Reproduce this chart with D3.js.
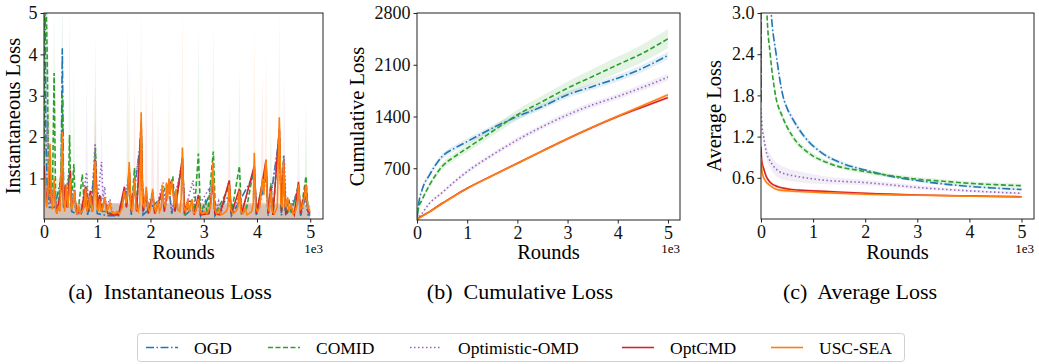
<!DOCTYPE html>
<html>
<head>
<meta charset="utf-8">
<script src="https://cdn.jsdelivr.net/npm/d3@7"></script>
<style>
  body { margin: 0; background: #fff; }
  svg { font-family: "Liberation Serif", "Times New Roman", "DejaVu Serif", serif; }
</style>
</head>
<body>
<script>
const methods = ["OGD", "COMID", "Optimistic-OMD", "OptCMD", "USC-SEA"]
const roundTicks = [0, 1000, 2000, 3000, 4000, 5000]

// (a) instantaneous loss, [round, value]
const instOGD = [[0,5.2],[20,5.2],[35,2.0],[60,0.8],[100,0.3],[160,0.3],[200,0.3],[320,1.0],[344,4.15],[370,0.3],[420,0.6],[480,1.1],[520,0.2],[600,0.15],[700,0.15],[780,0.5],[820,0.12],[965,1.2],[1000,0.15],[1200,0.1],[1400,0.1],[1600,0.9],[1640,0.12],[1825,2.0],[1860,0.12],[2350,0.7],[2400,0.15],[2600,1.3],[2640,0.1],[2900,0.4],[2940,0.1],[3170,0.8],[3210,0.1],[3480,0.6],[3520,0.1],[3950,1.1],[3990,0.1],[4170,1.0],[4210,0.1],[4420,2.0],[4460,0.1],[4500,1.0],[4540,0.1],[4780,0.65],[4820,0.1],[4920,0.6],[4960,0.12],[4999,0.12]]
const instCOMID = [[0,1.0],[10,5.2],[40,5.2],[60,4.0],[80,1.5],[100,0.6],[130,0.4],[160,0.8],[190,3.55],[220,0.3],[260,0.2],[320,1.2],[344,3.0],[370,0.4],[420,0.6],[450,0.3],[480,2.05],[510,0.3],[560,1.35],[590,0.3],[640,0.2],[720,1.1],[760,0.3],[800,0.8],[850,0.2],[900,0.4],[965,1.75],[1000,0.3],[1060,0.6],[1100,0.2],[1200,0.2],[1300,0.12],[1400,0.15],[1510,0.7],[1550,0.3],[1600,1.2],[1640,0.2],[1700,1.25],[1740,0.2],[1825,2.4],[1860,0.2],[1920,0.6],[1960,0.15],[2040,0.7],[2080,0.15],[2220,0.6],[2300,0.85],[2350,0.7],[2420,1.05],[2460,0.2],[2600,1.5],[2640,0.15],[2780,0.45],[2820,0.12],[2900,1.6],[2940,0.15],[3030,0.45],[3070,0.12],[3180,1.65],[3220,0.15],[3480,0.8],[3520,0.15],[3670,1.3],[3710,0.15],[3800,0.25],[3950,1.3],[3990,0.15],[4170,1.3],[4210,0.15],[4260,0.88],[4300,0.12],[4420,2.2],[4460,0.2],[4500,1.55],[4540,0.15],[4600,0.5],[4640,0.15],[4780,0.85],[4820,0.15],[4920,1.05],[4960,0.2],[4999,0.15]]
const instOMD = [[0,1.5],[40,1.8],[70,2.4],[90,1.0],[120,0.4],[190,0.8],[240,0.2],[344,1.0],[380,0.3],[420,0.75],[480,1.25],[520,0.3],[560,0.8],[600,0.2],[700,0.2],[760,0.8],[800,1.15],[840,0.3],[900,0.5],[960,1.85],[1000,0.4],[1080,1.4],[1110,0.5],[1140,0.8],[1170,0.3],[1240,0.5],[1280,0.2],[1400,0.15],[1510,0.6],[1600,1.0],[1640,0.2],[1825,2.0],[1860,0.2],[2040,0.6],[2080,0.2],[2240,0.9],[2280,0.3],[2350,0.8],[2400,0.2],[2600,1.4],[2640,0.2],[2800,0.95],[2840,0.2],[3170,0.9],[3210,0.2],[3280,0.45],[3320,0.15],[3480,0.95],[3520,0.15],[3670,0.6],[3710,0.15],[3950,1.2],[3990,0.15],[4170,1.2],[4210,0.15],[4420,2.0],[4460,0.2],[4510,1.55],[4550,0.15],[4780,0.7],[4820,0.15],[4900,0.6],[4940,0.2],[4999,0.15]]
const instOptCMD = [[0,1.3],[20,0.9],[50,0.4],[80,0.8],[112,1.3],[140,0.4],[190,0.7],[240,0.15],[330,0.8],[344,1.3],[370,0.3],[400,0.85],[430,0.3],[470,0.8],[494,1.2],[520,0.3],[575,0.6],[620,0.15],[700,0.2],[780,0.8],[820,0.2],[870,0.7],[910,0.2],[965,1.45],[1000,0.3],[1044,0.6],[1080,0.2],[1140,0.5],[1200,0.15],[1300,0.12],[1400,0.12],[1510,0.8],[1550,0.3],[1600,1.25],[1640,0.2],[1700,0.9],[1740,0.2],[1825,2.3],[1860,0.2],[1920,0.7],[1960,0.15],[2040,0.6],[2080,0.15],[2220,0.7],[2260,0.2],[2350,0.95],[2420,0.8],[2460,0.2],[2600,1.5],[2640,0.15],[2700,0.45],[2780,0.45],[2820,0.12],[2900,0.6],[2940,0.12],[3100,0.15],[3170,0.9],[3210,0.15],[3300,0.12],[3480,0.95],[3520,0.15],[3670,0.75],[3710,0.15],[3950,1.3],[3990,0.15],[4100,0.9],[4170,1.45],[4210,0.15],[4260,0.8],[4300,0.12],[4420,2.2],[4460,0.2],[4500,1.4],[4540,0.15],[4640,0.3],[4700,0.12],[4780,0.92],[4820,0.15],[4920,0.85],[4960,0.2],[4999,0.15]]
const instUSC = [[0,0.9],[15,1.0],[30,0.5],[50,0.3],[70,0.6],[90,1.1],[112,1.84],[135,0.6],[160,0.25],[190,1.0],[215,0.3],[240,0.15],[270,0.3],[300,0.2],[325,1.2],[344,2.12],[365,0.5],[390,0.2],[420,0.85],[445,0.3],[470,0.6],[494,1.0],[515,0.25],[545,0.4],[575,0.7],[600,0.2],[625,0.15],[650,0.35],[680,0.15],[710,0.2],[750,0.3],[780,0.75],[805,0.2],[830,0.3],[870,0.6],[900,0.2],[930,0.4],[960,1.42],[990,0.3],[1020,0.2],[1044,0.5],[1070,0.2],[1100,0.3],[1140,0.55],[1170,0.2],[1200,0.25],[1240,0.4],[1270,0.2],[1320,0.15],[1370,0.2],[1420,0.15],[1470,0.3],[1510,0.7],[1540,0.4],[1570,0.6],[1600,1.4],[1630,0.3],[1660,0.2],[1700,1.0],[1730,0.3],[1770,0.2],[1800,0.4],[1825,2.6],[1850,0.4],[1880,0.3],[1920,0.8],[1950,0.3],[1985,0.2],[2010,0.35],[2040,0.75],[2070,0.3],[2100,0.2],[2140,0.45],[2170,0.2],[2200,0.3],[2220,0.85],[2250,0.4],[2280,0.3],[2300,0.9],[2320,0.5],[2350,1.0],[2370,0.6],[2400,0.95],[2420,0.7],[2450,0.3],[2480,0.75],[2510,0.25],[2550,0.2],[2575,0.5],[2600,1.75],[2625,0.3],[2660,0.2],[2700,0.5],[2730,0.2],[2780,0.5],[2810,0.15],[2850,0.2],[2900,0.5],[2930,0.2],[2970,0.15],[3020,0.2],[3060,0.15],[3100,0.25],[3140,0.4],[3170,1.4],[3200,0.3],[3240,0.15],[3290,0.25],[3320,0.12],[3370,0.15],[3420,0.2],[3450,0.3],[3480,0.85],[3510,0.25],[3550,0.15],[3600,0.2],[3640,0.3],[3670,0.7],[3700,0.2],[3740,0.15],[3780,0.3],[3810,0.12],[3850,0.15],[3900,0.2],[3930,0.4],[3950,1.62],[3975,0.3],[4010,0.2],[4050,0.3],[4080,0.7],[4100,1.0],[4130,0.6],[4150,1.15],[4170,1.45],[4200,0.3],[4230,0.2],[4260,0.7],[4290,0.2],[4330,0.15],[4380,0.3],[4420,2.48],[4450,0.4],[4480,0.3],[4500,1.4],[4530,0.3],[4575,0.55],[4600,0.2],[4640,0.35],[4680,0.15],[4720,0.2],[4760,0.4],[4780,0.85],[4810,0.25],[4850,0.3],[4890,0.55],[4920,0.85],[4950,0.3],[4999,0.2]]

// (a) upper edge of the shaded spread, [round, value]
const bandInstOGD = [[0,5.2],[40,5.2],[80,1.0],[300,0.5],[320,1.0],[344,5.2],[370,0.4],[4999,0.35]]
const bandInstCOMID = [[0,5.2],[70,5.2],[110,1.5],[160,1.5],[190,5.2],[220,1.0],[300,1.0],[344,5.2],[370,0.6],[455,0.6],[480,5.2],[510,0.5],[540,0.5],[560,3.75],[590,0.4],[935,0.4],[965,4.5],[995,0.4],[1540,0.4],[1570,4.7],[1600,0.4],[2870,0.4],[2900,4.7],[2930,0.4],[3150,0.4],[3180,4.8],[3210,0.4],[3640,0.4],[3670,3.7],[3700,0.4],[4230,0.4],[4260,2.4],[4290,0.4],[4890,0.4],[4920,2.85],[4950,0.4],[4999,0.35]]
const bandInstOMD = [[0,2.5],[70,4.0],[110,0.6],[180,0.4],[770,0.4],[800,3.45],[830,0.4],[1050,0.4],[1080,2.6],[1110,0.4],[4480,0.4],[4510,3.55],[4540,0.4],[4750,0.4],[4780,2.4],[4810,0.4],[4999,0.35]]
const bandInstOptCMD = [[0,2.0],[60,1.0],[120,0.4],[930,0.4],[960,3.3],[990,0.4],[1670,0.4],[1700,3.2],[1730,0.4],[1890,0.4],[1920,3.5],[1950,0.4],[2010,0.4],[2040,3.4],[2070,0.4],[2110,0.4],[2140,2.6],[2170,0.4],[3450,0.4],[3480,2.85],[3510,0.4],[4070,0.4],[4100,3.5],[4130,0.4],[4999,0.35]]
const bandInstUSC = [[0,1.5],[112,3.0],[180,0.4],[320,0.5],[344,3.5],[380,0.4],[930,0.4],[960,2.5],[990,0.4],[1570,0.4],[1600,4.0],[1630,0.4],[1795,0.4],[1825,5.2],[1855,0.4],[2320,0.4],[2350,3.65],[2380,0.4],[2570,0.4],[2600,5.2],[2630,0.4],[3920,0.4],[3950,4.65],[3980,0.4],[4140,0.4],[4170,4.15],[4200,0.4],[4390,0.4],[4420,5.2],[4450,0.4],[4999,0.35]]

// (b) cumulative loss
const cumRounds = [0, 30, 100, 250, 500, 750, 1000, 1500, 2000, 2500, 3000, 3500, 4000, 4500, 5000]
const cumOGD = [0, 200, 406, 610, 858, 971, 1061, 1242, 1400, 1535, 1694, 1806, 1919, 2055, 2226]
const cumCOMID = [0, 158, 271, 474, 723, 858, 971, 1197, 1423, 1603, 1784, 1942, 2100, 2258, 2452]
const cumOMD = [0, 30, 90, 226, 370, 520, 655, 880, 1084, 1264, 1423, 1558, 1671, 1797, 1933]
const cumOptCMD = [0, 20, 54, 113, 226, 330, 429, 600, 768, 935, 1100, 1255, 1400, 1530, 1657]
const cumUSC = [0, 18, 50, 108, 220, 325, 425, 598, 765, 933, 1098, 1256, 1405, 1550, 1694]
const cumSdOGD = [0, 20, 30, 35, 40, 40, 40, 40, 40, 40, 45, 45, 45, 50, 50]
const cumSdCOMID = [0, 15, 25, 35, 45, 50, 55, 60, 70, 80, 90, 100, 110, 120, 130]
const cumSdOMD = [0, 5, 10, 15, 20, 25, 30, 30, 35, 35, 40, 40, 40, 45, 45]
const cumSdOptCMD = [0, 2, 5, 8, 10, 12, 15, 15, 18, 18, 20, 20, 22, 22, 25]
const cumSdUSC = [0, 2, 5, 8, 10, 12, 15, 15, 18, 18, 20, 20, 22, 22, 25]

// (c) average loss, [round, mean, spread]
const avgOGD = [[0,1.7,0.05],[8,4.0,0.1],[30,6.0,0.1],[60,5.5,0.1],[100,4.5,0.1],[150,3.6,0.08],[196,3.0,0.07],[291,2.4,0.06],[419,1.8,0.05],[514,1.59,0.05],[577,1.5,0.05],[831,1.2,0.04],[1181,0.956,0.03],[1562,0.81,0.03],[2006,0.713,0.02],[2500,0.62,0.02],[3000,0.56,0.02],[3500,0.51,0.02],[4000,0.475,0.02],[4500,0.45,0.02],[5000,0.43,0.02]]
const avgCOMID = [[0,1.7,0.05],[8,4.5,0.1],[30,5.5,0.1],[50,5.0,0.1],[80,3.8,0.1],[114,3.0,0.08],[177,2.4,0.07],[279,1.8,0.06],[406,1.5,0.05],[609,1.2,0.05],[926,0.956,0.04],[1307,0.81,0.03],[2006,0.69,0.03],[2500,0.63,0.03],[3000,0.58,0.03],[3500,0.55,0.03],[4000,0.52,0.03],[4500,0.5,0.03],[5000,0.485,0.03]]
const avgOMD = [[0,1.61,0.05],[20,1.35,0.06],[50,1.2,0.08],[100,0.98,0.09],[164,0.86,0.1],[250,0.76,0.1],[354,0.689,0.1],[500,0.65,0.09],[724,0.616,0.08],[1181,0.568,0.06],[2006,0.53,0.04],[3000,0.46,0.03],[4000,0.41,0.02],[5000,0.374,0.02]]
const avgOptCMD = [[0,1.05,0.04],[15,0.85,0.04],[50,0.738,0.04],[100,0.62,0.03],[164,0.544,0.03],[322,0.47,0.03],[724,0.42,0.02],[1300,0.4,0.02],[2006,0.374,0.02],[3000,0.35,0.01],[4000,0.337,0.01],[5000,0.325,0.01]]
const avgUSC = [[0,0.9,0.04],[25,0.665,0.04],[80,0.56,0.04],[164,0.495,0.03],[354,0.42,0.03],[724,0.4,0.02],[1300,0.38,0.02],[2006,0.36,0.02],[3000,0.345,0.01],[4000,0.333,0.01],[5000,0.32,0.01]]

const colors = ["#1f77b4", "#2ca02c", "#9467bd", "#d62728", "#ff7f0e"]
const dashes = ["8,2.5,1.5,2.5", "5,2.5", "1.5,2.5", null, null]

const svg = d3.select("body").append("svg")
  .attr("width", 1039)
  .attr("height", 364)

function makePanel(p) {
  const x = d3.scaleLinear().domain([0, 5240]).range([p.left, p.right])
  const y = d3.scaleLinear().domain(p.yDomain).range([p.bottom, p.top])
  const g = svg.append("g")

  g.append("clipPath").attr("id", p.id)
    .append("rect")
    .attr("x", p.left).attr("y", p.top)
    .attr("width", p.right - p.left).attr("height", p.bottom - p.top)

  const plot = g.append("g").attr("clip-path", "url(#" + p.id + ")")

  // axes
  const xa = g.append("g")
    .attr("transform", "translate(0," + p.bottom + ")")
    .call(d3.axisBottom(x).tickValues(roundTicks).tickFormat(d => d / 1000).tickSize(3.5).tickPadding(2.5))
  const ya = g.append("g")
    .attr("transform", "translate(" + p.left + ",0)")
    .call(d3.axisLeft(y).tickValues(p.yTicks).tickFormat(p.yFormat).tickSize(3.5).tickPadding(3))
  for (const a of [xa, ya]) {
    a.attr("font-family", null)
    a.select(".domain").remove()
    a.selectAll("line").attr("stroke", "#222")
    a.selectAll("text").attr("font-size", 18).attr("fill", "#111")
  }
  xa.selectAll("text").attr("dy", "0.7em")

  g.append("rect")
    .attr("x", p.left).attr("y", p.top)
    .attr("width", p.right - p.left).attr("height", p.bottom - p.top)
    .attr("fill", "none").attr("stroke", "#222").attr("stroke-width", 1)

  g.append("text")
    .attr("x", (p.left + p.right) / 2).attr("y", 259)
    .attr("text-anchor", "middle").attr("font-size", 20.5)
    .text("Rounds")
  g.append("text")
    .attr("x", p.right).attr("y", 253)
    .attr("text-anchor", "end").attr("font-size", 13)
    .text("1e3")
  g.append("text")
    .attr("transform", "translate(" + p.ylabelX + "," + ((p.top + p.bottom) / 2) + ") rotate(-90)")
    .attr("text-anchor", "middle").attr("font-size", 20.5)
    .text(p.ylabel)
  g.append("text")
    .attr("x", p.captionX).attr("y", 299)
    .attr("text-anchor", "middle").attr("font-size", 22)
    .attr("xml:space", "preserve")
    .text(p.caption)

  return { x, y, plot }
}

// (a)
const pa = makePanel({ id: "clipA", left: 44, right: 323, top: 13, bottom: 219, yDomain: [0.02, 5],
  yTicks: [1, 2, 3, 4, 5], yFormat: d3.format("d"), ylabel: "Instantaneous Loss", ylabelX: 20,
  caption: "(a)  Instantaneous Loss", captionX: 170 })
const instSeries = [instOGD, instCOMID, instOMD, instOptCMD, instUSC]
const instBands = [bandInstOGD, bandInstCOMID, bandInstOMD, bandInstOptCMD, bandInstUSC]
instBands.forEach((b, i) => {
  pa.plot.append("path")
    .datum(b)
    .attr("fill", colors[i]).attr("fill-opacity", 0.1)
    .attr("d", d3.area().x(d => pa.x(d[0])).y0(pa.y(0.02)).y1(d => pa.y(d[1])))
})
instSeries.forEach((s, i) => {
  pa.plot.append("path")
    .datum(s)
    .attr("fill", "none").attr("stroke", colors[i]).attr("stroke-width", 1.6)
    .attr("stroke-dasharray", dashes[i])
    .attr("d", d3.line().x(d => pa.x(d[0])).y(d => pa.y(d[1])))
})

// (b)
const pb = makePanel({ id: "clipB", left: 417, right: 680, top: 13, bottom: 220, yDomain: [0, 2800],
  yTicks: [700, 1400, 2100, 2800], yFormat: d3.format("d"), ylabel: "Cumulative Loss", ylabelX: 364,
  caption: "(b)  Cumulative Loss", captionX: 520 })
const cumSeries = [cumOGD, cumCOMID, cumOMD, cumOptCMD, cumUSC]
const cumSd = [cumSdOGD, cumSdCOMID, cumSdOMD, cumSdOptCMD, cumSdUSC]
cumSeries.forEach((s, i) => {
  pb.plot.append("path")
    .datum(cumRounds)
    .attr("fill", colors[i]).attr("fill-opacity", 0.12)
    .attr("d", d3.area().curve(d3.curveMonotoneX)
      .x(r => pb.x(r))
      .y0((r, j) => pb.y(s[j] - cumSd[i][j]))
      .y1((r, j) => pb.y(s[j] + cumSd[i][j])))
})
cumSeries.forEach((s, i) => {
  pb.plot.append("path")
    .datum(cumRounds)
    .attr("fill", "none").attr("stroke", colors[i]).attr("stroke-width", 1.6)
    .attr("stroke-dasharray", dashes[i])
    .attr("d", d3.line().curve(d3.curveMonotoneX).x(r => pb.x(r)).y((r, j) => pb.y(s[j])))
})

// (c)
const pc = makePanel({ id: "clipC", left: 761, right: 1034, top: 13, bottom: 219, yDomain: [0, 3],
  yTicks: [0.6, 1.2, 1.8, 2.4, 3.0], yFormat: d3.format(".1f"), ylabel: "Average Loss", ylabelX: 721,
  caption: "(c)  Average Loss", captionX: 860 })
const avgSeries = [avgOGD, avgCOMID, avgOMD, avgOptCMD, avgUSC]
avgSeries.forEach((s, i) => {
  pc.plot.append("path")
    .datum(s)
    .attr("fill", colors[i]).attr("fill-opacity", 0.12)
    .attr("d", d3.area().curve(d3.curveMonotoneX)
      .x(d => pc.x(d[0])).y0(d => pc.y(d[1] - d[2])).y1(d => pc.y(d[1] + d[2])))
})
avgSeries.forEach((s, i) => {
  pc.plot.append("path")
    .datum(s)
    .attr("fill", "none").attr("stroke", colors[i]).attr("stroke-width", 1.6)
    .attr("stroke-dasharray", dashes[i])
    .attr("d", d3.line().curve(d3.curveMonotoneX).x(d => pc.x(d[0])).y(d => pc.y(d[1])))
})

// legend
const legend = svg.append("g")
legend.append("rect")
  .attr("x", 137.5).attr("y", 333.5).attr("width", 767).attr("height", 28).attr("rx", 3)
  .attr("fill", "#fff").attr("stroke", "#d0d0d0")
const legendX = [146, 268, 410, 622, 771]
methods.forEach((m, i) => {
  legend.append("line")
    .attr("x1", legendX[i]).attr("x2", legendX[i] + 32)
    .attr("y1", 347.5).attr("y2", 347.5)
    .attr("stroke", colors[i]).attr("stroke-width", 1.6)
    .attr("stroke-dasharray", dashes[i])
  legend.append("text")
    .attr("x", legendX[i] + 48).attr("y", 353.5)
    .attr("font-size", 17.5)
    .text(m)
})
</script>
</body>
</html>
